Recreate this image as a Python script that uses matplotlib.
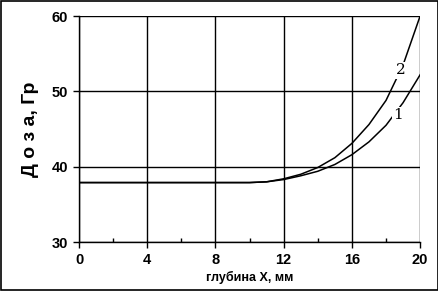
import matplotlib.pyplot as plt
from matplotlib.patches import Rectangle
from matplotlib.ticker import MultipleLocator

depth = [0, 2, 4, 6, 8, 10, 11, 12, 13, 14, 15, 16, 17, 18, 19, 20]
dose1 = [37.9, 37.9, 37.9, 37.9, 37.9, 37.9, 38.0, 38.3, 38.8, 39.4, 40.3, 41.6, 43.3, 45.5, 48.5, 52.2]
dose2 = [37.9, 37.9, 37.9, 37.9, 37.9, 37.9, 38.0, 38.4, 39.0, 39.9, 41.2, 43.1, 45.6, 48.8, 53.5, 60.0]

fig = plt.figure(figsize=(4.39, 2.91), dpi=100)
ax = fig.add_axes([0.18, 0.168, 0.777, 0.777])

ax.plot(depth, dose1, color="black", lw=1.1)
ax.plot(depth, dose2, color="black", lw=1.1)

ax.text(18.7, 46.8, "1", family="DejaVu Serif", fontsize=11, ha="center", va="center",
        bbox=dict(facecolor="white", edgecolor="none", pad=1.0))
ax.text(18.85, 52.8, "2", family="DejaVu Serif", fontsize=11, ha="center", va="center",
        bbox=dict(facecolor="white", edgecolor="none", pad=1.0))

ax.set_xlim(0, 20)
ax.set_ylim(30, 60)
ax.set_xticks([0, 4, 8, 12, 16, 20])
ax.set_yticks([30, 40, 50, 60])
ax.xaxis.set_minor_locator(MultipleLocator(2))
ax.grid(True, color="black", lw=1.0)
for s in ["top", "right"]:
    ax.spines[s].set_visible(False)
ax.spines["left"].set_linewidth(1.0)
ax.spines["bottom"].set_linewidth(1.0)

ax.tick_params(axis="both", which="major", direction="out", length=4, width=1,
               labelsize=10.5, pad=4)
ax.tick_params(axis="x", which="minor", direction="in", length=3, width=1)
for lbl in ax.get_xticklabels() + ax.get_yticklabels():
    lbl.set_fontweight("bold")
    lbl.set_family("Liberation Sans")

ax.set_xlabel("глубина X, мм", fontsize=9, fontweight="bold", family="Liberation Sans", labelpad=3)
ax.set_ylabel("Д о з а, Гр", fontsize=14, fontweight="bold", family="Liberation Sans", labelpad=9)

fig.patches.append(Rectangle((0.003, 0.004), 0.994, 0.992, transform=fig.transFigure,
                             fill=False, edgecolor="black", lw=1.2))

fig.savefig("out.png", dpi=100)
